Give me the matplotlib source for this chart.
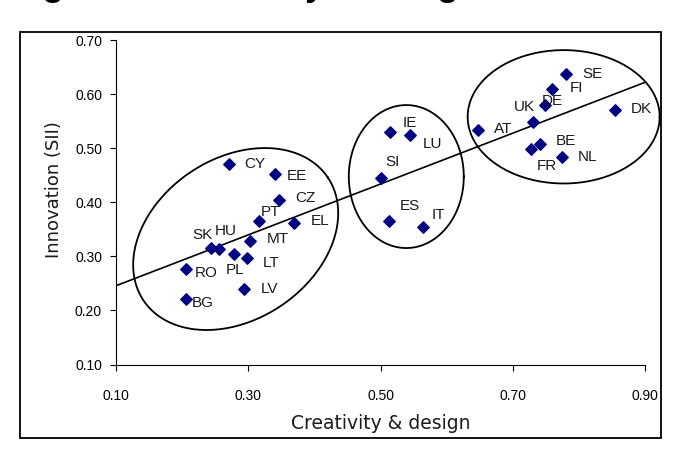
import numpy as np
import matplotlib
matplotlib.use("Agg")
import matplotlib.pyplot as plt
from matplotlib.patches import Rectangle

plt.rcParams['font.family'] = ['Liberation Sans', 'DejaVu Sans']

# country codes, creativity & design score, innovation (SII)
countries = ['CY', 'EE', 'CZ', 'PT', 'EL', 'MT', 'SK', 'HU', 'PL', 'LT', 'RO', 'LV', 'BG',
             'IE', 'LU', 'SI', 'ES', 'IT',
             'SE', 'FI', 'DE', 'UK', 'AT', 'DK', 'BE', 'FR', 'NL']
creativity = [0.271, 0.341, 0.347, 0.317, 0.369, 0.303, 0.244, 0.256, 0.279, 0.298, 0.206, 0.293, 0.206,
              0.515, 0.545, 0.501, 0.513, 0.564,
              0.781, 0.760, 0.749, 0.730, 0.648, 0.855, 0.741, 0.727, 0.774]
innovation = [0.471, 0.453, 0.404, 0.365, 0.361, 0.329, 0.315, 0.314, 0.305, 0.296, 0.277, 0.240, 0.222,
              0.530, 0.524, 0.444, 0.365, 0.355,
              0.637, 0.610, 0.580, 0.548, 0.533, 0.570, 0.507, 0.498, 0.484]

# label offsets in pixels (left edge of text, vertical centre) from each marker
label_dx = [15, 11, 16, 1, 17, 17, -19, -4, -9, 16, 9, 17, 6,
            12, 12, 4, 11, 9,
            16, 17, -3, -19, 16, 16, 16, 6, 16]
label_dy = [0, 2, -2, -9, -2, -2, -13, -18, 16, 5, 4, 0, 4,
            -9, 9, -16, -15, -12,
            0, -1, -4, -15, -1, -1, -3, 17, 0]

# cluster ellipses: centre (data), semi axes (px), rotation (deg)
ell_centres = [(0.281, 0.332), (0.539, 0.4475), (0.777, 0.558)]
ell_axes = [(110.8, 80.7), (57.5, 71.5), (96, 66.7)]
ell_angles = [33.6, 0, 0]

fig = plt.figure(figsize=(6.77, 4.49), dpi=100)
ax = fig.add_axes([116 / 677, 84.5 / 449, 529 / 677, 324.5 / 449])

# outer frame
fig.patches.append(Rectangle((20 / 677, 11 / 449), 641 / 677, 406 / 449,
                             transform=fig.transFigure, fill=False,
                             edgecolor='black', linewidth=1.3))
# title cut off at top of the picture
fig.text(12 / 677, 1 + 3.5 / 449, 'Figure 4: Creativity & design', fontsize=24.8,
         fontweight='bold', ha='left', va='baseline')

ax.scatter(creativity, innovation, marker='D', s=34, color='#000080', zorder=3)

# linear trend line
k, m = np.polyfit(creativity, innovation, 1)
xs = np.array([0.1, 0.9])
ax.plot(xs, k * xs + m, color='black', linewidth=1.2)

ax.set_xlim(0.1, 0.9)
ax.set_ylim(0.1, 0.7)

px_x = 529 / 0.8
px_y = 324.5 / 0.6
t = np.linspace(0, 2 * np.pi, 300)
for (cx, cy), (a, b), ang in zip(ell_centres, ell_axes, ell_angles):
    th = np.radians(ang)
    dx = a * np.cos(t) * np.cos(th) - b * np.sin(t) * np.sin(th)
    dy = a * np.cos(t) * np.sin(th) + b * np.sin(t) * np.cos(th)
    ax.plot(cx + dx / px_x, cy + dy / px_y, color='black', linewidth=1.3, clip_on=False)

for name, x, y, dx, dy in zip(countries, creativity, innovation, label_dx, label_dy):
    ax.annotate(name, (x, y), xytext=(dx * 0.72, -dy * 0.72), textcoords='offset points',
                ha='left', va='center', fontsize=11, color='#1a1a1a')

ax.set_xticks([0.1, 0.3, 0.5, 0.7, 0.9])
ax.set_xticklabels(['0.10', '0.30', '0.50', '0.70', '0.90'])
ax.set_yticks([0.1, 0.2, 0.3, 0.4, 0.5, 0.6, 0.7])
ax.set_yticklabels(['0.10', '0.20', '0.30', '0.40', '0.50', '0.60', '0.70'])
ax.tick_params(axis='x', direction='out', length=4, pad=14, labelsize=10)
ax.tick_params(axis='y', direction='out', length=4, pad=6, labelsize=10)

for side in ['top', 'right']:
    ax.spines[side].set_visible(False)
for side in ['left', 'bottom']:
    ax.spines[side].set_linewidth(0.8)

ax.set_xlabel('Creativity & design', fontsize=13.5, family='DejaVu Sans', color='#1a1a1a')
ax.set_ylabel('Innovation (SII)', fontsize=13, family='DejaVu Sans', color='#1a1a1a')
ax.xaxis.set_label_coords(0.5, -0.152)
ax.yaxis.set_label_coords(-0.100, 0.538)

fig.savefig('out.png', dpi=100)
